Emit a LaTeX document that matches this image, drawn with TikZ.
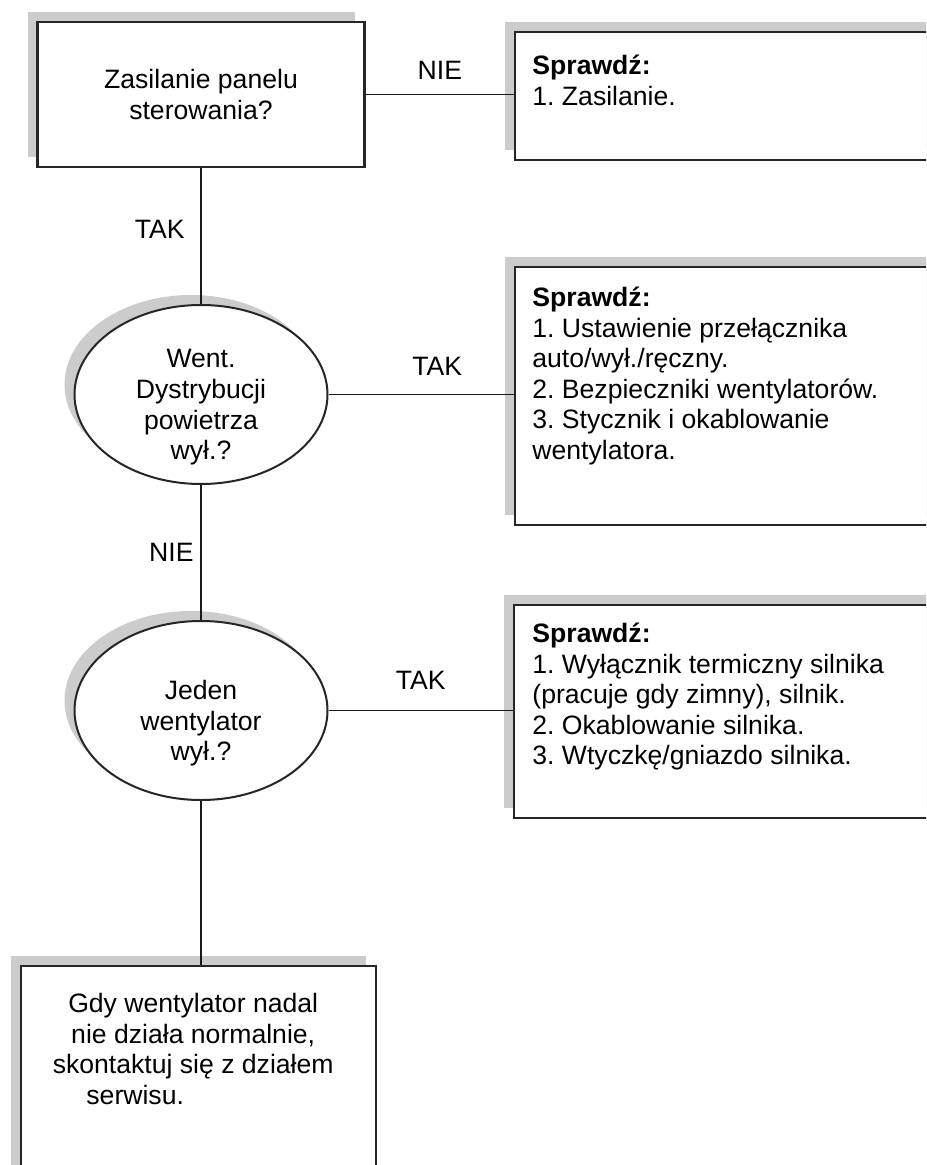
\documentclass[tikz,border=0pt]{standalone}
\usepackage{fontspec}
\setmainfont{Liberation Sans}
\frenchspacing
\usetikzlibrary{positioning,shapes.geometric,shadows}

\begin{document}
\begin{tikzpicture}[x=0.5pt,y=-0.5pt,
    font=\fontsize{13.3}{15.3}\selectfont,
    shade box/.style={drop shadow={shadow xshift=-5pt,shadow yshift=5pt,fill=black!20,opacity=1}},
    qbox/.style={draw=black!85,line width=1.2pt,fill=white,shade box,inner sep=0pt},
    qell/.style={ellipse,draw=black!85,line width=1pt,fill=white,shade box,
        minimum width=126.5pt,minimum height=89.5pt,inner sep=0pt},
    chkbox/.style={qbox,anchor=north west,minimum width=300pt},
    txt/.style={inner sep=0pt,align=left},
    conn/.style={draw=black!90,line width=0.8pt}]
    \path[use as bounding box] (0,0) rectangle (926,1165);
    \clip (0,0) rectangle (926,1165);

    \node[qbox,minimum width=163.5pt,minimum height=72.5pt,align=center] (q1) at (201,94.5) {Zasilanie panelu\\sterowania?};
    \node[qell] (e1) at (201,394.5) {};
    \node[align=center,inner sep=0pt] (e1txt) at ([yshift=-6.5pt]e1.center) {Went.\\Dystrybucji\\powietrza\\wył.?};
    \node[qell] (e2) at (201,710.5) {};
    \node[align=center,inner sep=0pt] (e2txt) at ([yshift=-6.5pt]e2.center) {Jeden\\wentylator\\wył.?};
    \node[qbox,anchor=north west,minimum width=177.5pt,minimum height=150pt] (fin) at (20,965) {};
    \node[align=center,inner sep=0pt,below=14pt of fin.north,xshift=-2.75pt] (fintxt) {Gdy wentylator nadal\\nie działa normalnie,\\skontaktuj się z działem\\serwisu.\hspace*{58pt}};

    \node[chkbox,minimum height=64pt] (chk1) at (514,31) {};
    \node[txt,below right=11.75pt and 9pt of chk1.north west] (chk1txt) {\textbf{Sprawdź:}\\1. Zasilanie.};
    \node[chkbox,minimum height=129pt] (chk2) at (514,266) {};
    \node[txt,below right=10.25pt and 9pt of chk2.north west] (chk2txt) {\textbf{Sprawdź:}\\1. Ustawienie przełącznika\\auto/wył./ręczny.\\2. Bezpieczniki wentylatorów.\\3. Stycznik i okablowanie\\wentylatora.};
    \node[chkbox,minimum height=106.5pt] (chk3) at (513,604) {};
    \node[txt,below right=9.25pt and 9.5pt of chk3.north west] (chk3txt) {\textbf{Sprawdź:}\\1. Wyłącznik termiczny silnika\\(pracuje gdy zimny), silnik.\\2. Okablowanie silnika.\\3. Wtyczkę/gniazdo silnika.};

    \draw[conn] (q1.east) -- (q1.east -| chk1.west) node[midway,above=4pt] (nie1) {NIE};
    \draw[conn] (q1.south) -- (e1.north) node[pos=0.45,left=4.5pt] (tak1) {TAK};
    \draw[conn] (e1.east) -- (e1.east -| chk2.west) node[midway,above=6pt,xshift=8pt] (tak2) {TAK};
    \draw[conn] (e1.south) -- (e2.north) node[midway,left=0pt] (nie2) {NIE};
    \draw[conn] (e2.east) -- (e2.east -| chk3.west) node[midway,above=7pt] (tak3) {TAK};
    \draw[conn] (e2.south) -- (e2.south |- fin.north);
\end{tikzpicture}
\end{document}
